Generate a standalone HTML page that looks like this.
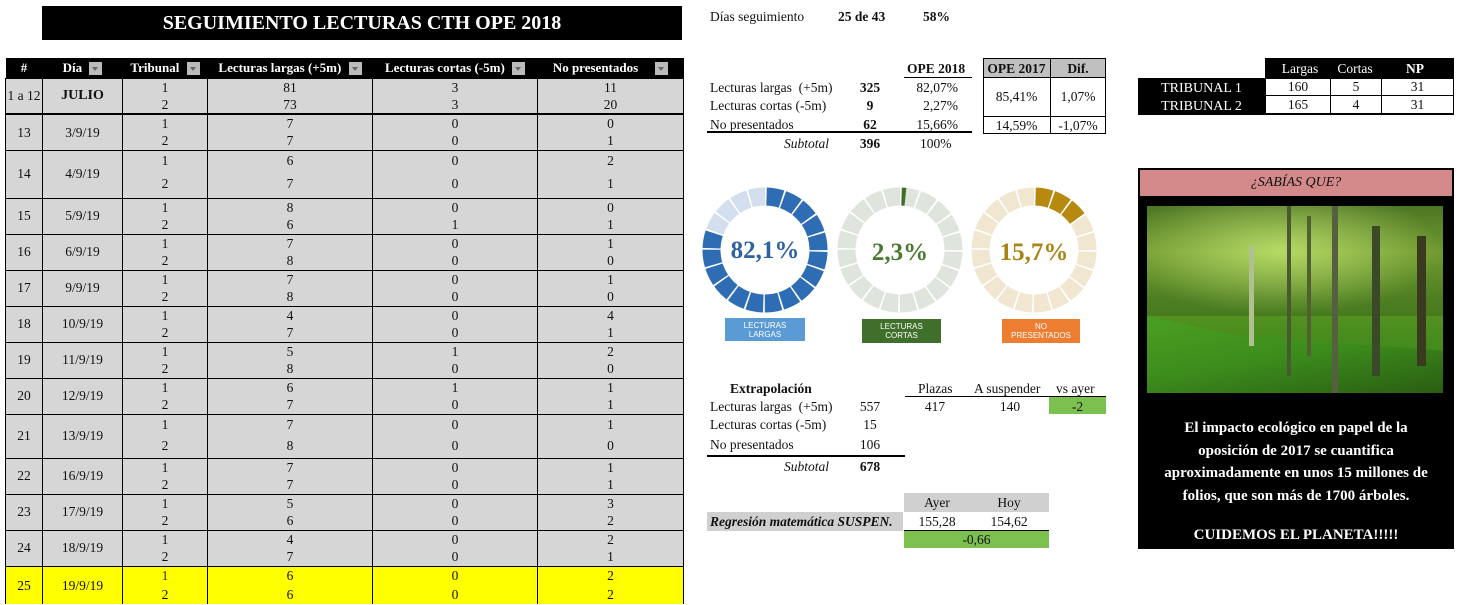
<!DOCTYPE html>
<html><head><meta charset="utf-8"><style>
*{margin:0;padding:0;box-sizing:border-box}
body{width:1459px;height:605px;background:#fff;position:relative;overflow:hidden;font-family:"Liberation Serif",serif;font-size:13.5px;color:#111}
.a{position:absolute;white-space:nowrap}
table.m{position:absolute;left:5px;top:58px;border-collapse:collapse;table-layout:fixed;width:678px}
table.m td{text-align:center;padding:0;background:#d6d6d6;border-left:1px solid #000;border-right:1px solid #000;font-size:13.5px;line-height:1}
table.m th{background:#000;color:#fff;height:20px;font-size:13px;font-weight:bold;position:relative;padding:0}
table.m tr.g td{border-top:1px solid #000}
table.m tr.y td{background:#ffff00}
.f{display:inline-block;width:13px;height:13px;background:#bbb;vertical-align:middle;margin-left:4px;position:relative}
.f:after{content:"";position:absolute;left:3px;top:5px;border-left:3.5px solid transparent;border-right:3.5px solid transparent;border-top:4px solid #666}
.c{text-align:center}
</style></head><body>
<div class="a" style="left:42px;top:6px;width:640px;height:34px;background:#000;color:#fff;font-weight:bold;font-size:20px;text-align:center;line-height:34px">SEGUIMIENTO LECTURAS CTH OPE 2018</div>

<table class="m">
<colgroup><col style="width:37px"><col style="width:80px"><col style="width:85px"><col style="width:165px"><col style="width:165px"><col style="width:146px"></colgroup>
<tr><th>#</th><th>Día <span class="f"></span></th><th>Tribunal <span class="f"></span></th><th>Lecturas largas (+5m) <span class="f"></span></th><th>Lecturas cortas (-5m) <span class="f"></span></th><th>No presentados &nbsp;&nbsp;&nbsp;<span class="f"></span></th></tr>
<tr class="g"><td rowspan="2">1 a 12</td><td rowspan="2" style="font-weight:bold;font-size:14px">JULIO</td><td style="height:18px">1</td><td>81</td><td>3</td><td>11</td></tr>
<tr><td style="height:18px">2</td><td>73</td><td>3</td><td>20</td></tr>
<tr class="g" style="border-top:2px solid #000"><td rowspan="2">13</td><td rowspan="2">3/9/19</td><td style="height:18px">1</td><td>7</td><td>0</td><td>0</td></tr>
<tr><td style="height:18px">2</td><td>7</td><td>0</td><td>1</td></tr>
<tr class="g"><td rowspan="2">14</td><td rowspan="2">4/9/19</td><td style="height:20px">1</td><td>6</td><td>0</td><td>2</td></tr>
<tr><td style="height:28px">2</td><td>7</td><td>0</td><td>1</td></tr>
<tr class="g"><td rowspan="2">15</td><td rowspan="2">5/9/19</td><td style="height:18px">1</td><td>8</td><td>0</td><td>0</td></tr>
<tr><td style="height:18px">2</td><td>6</td><td>1</td><td>1</td></tr>
<tr class="g"><td rowspan="2">16</td><td rowspan="2">6/9/19</td><td style="height:18px">1</td><td>7</td><td>0</td><td>1</td></tr>
<tr><td style="height:18px">2</td><td>8</td><td>0</td><td>0</td></tr>
<tr class="g"><td rowspan="2">17</td><td rowspan="2">9/9/19</td><td style="height:18px">1</td><td>7</td><td>0</td><td>1</td></tr>
<tr><td style="height:18px">2</td><td>8</td><td>0</td><td>0</td></tr>
<tr class="g"><td rowspan="2">18</td><td rowspan="2">10/9/19</td><td style="height:18px">1</td><td>4</td><td>0</td><td>4</td></tr>
<tr><td style="height:18px">2</td><td>7</td><td>0</td><td>1</td></tr>
<tr class="g"><td rowspan="2">19</td><td rowspan="2">11/9/19</td><td style="height:18px">1</td><td>5</td><td>1</td><td>2</td></tr>
<tr><td style="height:18px">2</td><td>8</td><td>0</td><td>0</td></tr>
<tr class="g"><td rowspan="2">20</td><td rowspan="2">12/9/19</td><td style="height:18px">1</td><td>6</td><td>1</td><td>1</td></tr>
<tr><td style="height:18px">2</td><td>7</td><td>0</td><td>1</td></tr>
<tr class="g"><td rowspan="2">21</td><td rowspan="2">13/9/19</td><td style="height:20px">1</td><td>7</td><td>0</td><td>1</td></tr>
<tr><td style="height:24px">2</td><td>8</td><td>0</td><td>0</td></tr>
<tr class="g"><td rowspan="2">22</td><td rowspan="2">16/9/19</td><td style="height:18px">1</td><td>7</td><td>0</td><td>1</td></tr>
<tr><td style="height:18px">2</td><td>7</td><td>0</td><td>1</td></tr>
<tr class="g"><td rowspan="2">23</td><td rowspan="2">17/9/19</td><td style="height:18px">1</td><td>5</td><td>0</td><td>3</td></tr>
<tr><td style="height:18px">2</td><td>6</td><td>0</td><td>2</td></tr>
<tr class="g"><td rowspan="2">24</td><td rowspan="2">18/9/19</td><td style="height:18px">1</td><td>4</td><td>0</td><td>2</td></tr>
<tr><td style="height:18px">2</td><td>7</td><td>0</td><td>1</td></tr>
<tr class="g y"><td rowspan="2">25</td><td rowspan="2">19/9/19</td><td style="height:19px;color:#333">1</td><td>6</td><td>0</td><td>2</td></tr>
<tr class="y"><td style="height:19px">2</td><td>6</td><td>0</td><td>2</td></tr>
</table>

<div class="a" style="left:710px;top:9px">Días seguimiento</div>
<div class="a" style="left:838px;top:9px;font-weight:bold">25 de 43</div>
<div class="a" style="left:923px;top:9px;font-weight:bold">58%</div>

<div class="a" style="left:907px;top:61px;font-weight:bold">OPE 2018</div>
<div class="a" style="left:904px;top:77px;width:68px;height:1px;background:#000"></div>
<div class="a" style="left:710px;top:80px">Lecturas largas &nbsp;(+5m)</div>
<div class="a" style="left:710px;top:98px">Lecturas cortas (-5m)</div>
<div class="a" style="left:710px;top:117px">No presentados</div>
<div class="a" style="left:784px;top:136px;font-style:italic">Subtotal</div>
<div class="a c" style="left:850px;top:80px;width:40px;font-weight:bold">325</div>
<div class="a c" style="left:850px;top:98px;width:40px;font-weight:bold">9</div>
<div class="a c" style="left:850px;top:117px;width:40px;font-weight:bold">62</div>
<div class="a c" style="left:850px;top:136px;width:40px;font-weight:bold">396</div>
<div class="a" style="left:900px;top:80px;width:58px;text-align:right">82,07%</div>
<div class="a" style="left:900px;top:98px;width:58px;text-align:right">2,27%</div>
<div class="a" style="left:900px;top:117px;width:58px;text-align:right">15,66%</div>
<div class="a" style="left:920px;top:136px">100%</div>
<div class="a" style="left:707px;top:131px;width:265px;height:2px;background:#000"></div>

<div class="a" style="left:983px;top:58px;width:123px;height:76px;border:1px solid #000"></div>
<div class="a" style="left:984px;top:59px;width:121px;height:19px;background:#c0c0c0;border-bottom:1px solid #000"></div>
<div class="a" style="left:1050px;top:58px;width:1px;height:76px;background:#000"></div>
<div class="a" style="left:983px;top:116px;width:123px;height:1px;background:#000"></div>
<div class="a c" style="left:983px;top:61px;width:67px;font-weight:bold">OPE 2017</div>
<div class="a c" style="left:1050px;top:61px;width:56px;font-weight:bold">Dif.</div>
<div class="a c" style="left:983px;top:89px;width:67px">85,41%</div>
<div class="a c" style="left:1050px;top:89px;width:56px">1,07%</div>
<div class="a c" style="left:983px;top:118px;width:67px">14,59%</div>
<div class="a c" style="left:1050px;top:118px;width:56px">-1,07%</div>

<svg class="a" style="left:690px;top:170px" width="420" height="180">
 <g transform="translate(75,80) rotate(-90)">
  <circle r="53.5" fill="none" stroke="#d3dfee" stroke-width="18"/>
  <circle r="53.5" fill="none" stroke="#2e6db4" stroke-width="18" stroke-dasharray="269 400"/>
  <circle r="53.5" fill="none" stroke="#fff" stroke-width="19" stroke-dasharray="1.6 15.21"/>
 </g>
 <g transform="translate(210,80) rotate(-90)">
  <circle r="53.5" fill="none" stroke="#dfe5dc" stroke-width="18"/>
  <circle r="53.5" fill="none" stroke="#3f6f2a" stroke-width="18" stroke-dasharray="5.5 400"/>
  <circle r="53.5" fill="none" stroke="#fff" stroke-width="19" stroke-dasharray="1.6 15.21"/>
 </g>
 <g transform="translate(344,80) rotate(-90)">
  <circle r="53.5" fill="none" stroke="#f1e7d0" stroke-width="18"/>
  <circle r="53.5" fill="none" stroke="#b8890f" stroke-width="18" stroke-dasharray="50.4 400"/>
  <circle r="53.5" fill="none" stroke="#fff" stroke-width="19" stroke-dasharray="1.6 15.21"/>
 </g>
 <text x="75" y="88" text-anchor="middle" font-family="Liberation Serif" font-weight="bold" font-size="25" fill="#2f62a0">82,1%</text>
 <text x="210" y="90" text-anchor="middle" font-family="Liberation Serif" font-weight="bold" font-size="25" fill="#4a7a32">2,3%</text>
 <text x="344" y="90" text-anchor="middle" font-family="Liberation Serif" font-weight="bold" font-size="25" fill="#a98414">15,7%</text>
</svg>
<div class="a c" style="left:725px;top:318px;width:80px;height:23px;background:#5b9bd5;color:#fff;font-family:'Liberation Sans',sans-serif;font-size:8px;line-height:9px;padding-top:3px">LECTURAS<br>LARGAS</div>
<div class="a c" style="left:862px;top:319px;width:79px;height:24px;background:#3f6f2a;color:#fff;font-family:'Liberation Sans',sans-serif;font-size:8px;line-height:9px;padding-top:3px">LECTURAS<br>CORTAS</div>
<div class="a c" style="left:1002px;top:319px;width:78px;height:24px;background:#ed7d31;color:#fff;font-family:'Liberation Sans',sans-serif;font-size:8px;line-height:9px;padding-top:3px">NO<br>PRESENTADOS</div>

<div class="a" style="left:730px;top:381px;font-weight:bold">Extrapolación</div>
<div class="a" style="left:918px;top:381px">Plazas</div>
<div class="a" style="left:974px;top:381px">A suspender</div>
<div class="a" style="left:1056px;top:381px">vs ayer</div>
<div class="a" style="left:905px;top:396px;width:201px;height:1px;background:#000"></div>
<div class="a" style="left:1049px;top:397px;width:57px;height:17px;background:#7cc150"></div>
<div class="a" style="left:710px;top:399px">Lecturas largas &nbsp;(+5m)</div>
<div class="a" style="left:710px;top:417px">Lecturas cortas (-5m)</div>
<div class="a" style="left:710px;top:437px">No presentados</div>
<div class="a" style="left:784px;top:459px;font-style:italic">Subtotal</div>
<div class="a c" style="left:850px;top:399px;width:40px">557</div>
<div class="a c" style="left:850px;top:417px;width:40px">15</div>
<div class="a c" style="left:850px;top:437px;width:40px">106</div>
<div class="a c" style="left:850px;top:459px;width:40px;font-weight:bold">678</div>
<div class="a c" style="left:910px;top:399px;width:50px">417</div>
<div class="a c" style="left:985px;top:399px;width:50px">140</div>
<div class="a c" style="left:1049px;top:399px;width:57px">-2</div>
<div class="a" style="left:707px;top:455px;width:198px;height:2px;background:#000"></div>

<div class="a" style="left:904px;top:493px;width:145px;height:19px;background:#d0d0d0"></div>
<div class="a c" style="left:904px;top:495px;width:66px">Ayer</div>
<div class="a c" style="left:976px;top:495px;width:66px">Hoy</div>
<div class="a" style="left:707px;top:512px;width:196px;height:19px;background:#d0d0d0;font-weight:bold;font-style:italic;padding-left:3px;line-height:19px">Regresión matemática SUSPEN.</div>
<div class="a c" style="left:904px;top:514px;width:66px">155,28</div>
<div class="a c" style="left:976px;top:514px;width:66px">154,62</div>
<div class="a" style="left:904px;top:530px;width:145px;height:1px;background:#000"></div>
<div class="a c" style="left:904px;top:531px;width:145px;height:17px;background:#7cc150;line-height:17px">-0,66</div>

<div class="a" style="left:1265px;top:58px;width:189px;height:20px;background:#000"></div>
<div class="a c" style="left:1270px;top:61px;width:60px;color:#fff">Largas</div>
<div class="a c" style="left:1330px;top:61px;width:50px;color:#fff">Cortas</div>
<div class="a c" style="left:1385px;top:61px;width:60px;color:#fff;font-weight:bold">NP</div>
<div class="a" style="left:1138px;top:78px;width:316px;height:37px;background:#000"></div>
<div class="a" style="left:1266px;top:79px;width:64px;height:16px;background:#fff"></div>
<div class="a" style="left:1331px;top:79px;width:50px;height:16px;background:#fff"></div>
<div class="a" style="left:1382px;top:79px;width:71px;height:16px;background:#fff"></div>
<div class="a" style="left:1266px;top:96px;width:64px;height:17px;background:#fff"></div>
<div class="a" style="left:1331px;top:96px;width:50px;height:17px;background:#fff"></div>
<div class="a" style="left:1382px;top:96px;width:71px;height:17px;background:#fff"></div>
<div class="a c" style="left:1138px;top:81px;width:127px;color:#fff;font-size:14px">TRIBUNAL 1</div>
<div class="a c" style="left:1138px;top:99px;width:127px;color:#fff;font-size:14px">TRIBUNAL 2</div>
<div class="a c" style="left:1266px;top:79px;width:64px">160</div>
<div class="a c" style="left:1331px;top:79px;width:50px">5</div>
<div class="a c" style="left:1382px;top:79px;width:71px">31</div>
<div class="a c" style="left:1266px;top:97px;width:64px">165</div>
<div class="a c" style="left:1331px;top:97px;width:50px">4</div>
<div class="a c" style="left:1382px;top:97px;width:71px">31</div>

<div class="a" style="left:1138px;top:168px;width:316px;height:381px;background:#000"></div>
<div class="a c" style="left:1140px;top:170px;width:312px;height:26px;background:#d48a8a;font-style:italic;line-height:26px;font-size:14px">¿SABÍAS QUE?</div>
<div class="a" style="left:1147px;top:206px;width:296px;height:187px;overflow:hidden;background:linear-gradient(180deg,#5d8a2a 0%,#8fbf3c 25%,#5f9628 50%,#4c8e1e 65%,#3f8a1c 80%,#2f6a16 100%)">
 <div class="a" style="left:0;top:0;width:296px;height:110px;background:radial-gradient(ellipse at 45% 40%,rgba(200,230,120,.7),rgba(40,70,20,.3) 70%)"></div>
 <div class="a" style="left:0;top:110px;width:296px;height:77px;background:linear-gradient(170deg,#4aa022 0%,#3c8c1c 50%,#2a5e12 100%);clip-path:polygon(0 0,30% 25%,100% 45%,100% 100%,0 100%)"></div>
 <div class="a" style="left:140px;top:0;width:4px;height:170px;background:#4a5a30"></div>
 <div class="a" style="left:185px;top:0;width:6px;height:187px;background:#556040"></div>
 <div class="a" style="left:225px;top:20px;width:8px;height:150px;background:#3a4a28"></div>
 <div class="a" style="left:270px;top:30px;width:9px;height:130px;background:#3a3a20"></div>
 <div class="a" style="left:102px;top:40px;width:5px;height:100px;background:#b0c090"></div>
 <div class="a" style="left:160px;top:10px;width:4px;height:140px;background:#506030"></div>
</div>
<div class="a c" style="left:1138px;top:417px;width:316px;color:#fff;font-weight:bold;font-size:15px;line-height:22.5px;white-space:normal">El impacto ecológico en papel de la<br>oposición de 2017 se cuantifica<br>aproximadamente en unos 15 millones de<br>folios, que son más de 1700 árboles.</div>
<div class="a c" style="left:1138px;top:527px;width:316px;color:#fff;font-weight:bold;font-size:15px">CUIDEMOS EL PLANETA!!!!!</div>
</body></html>
